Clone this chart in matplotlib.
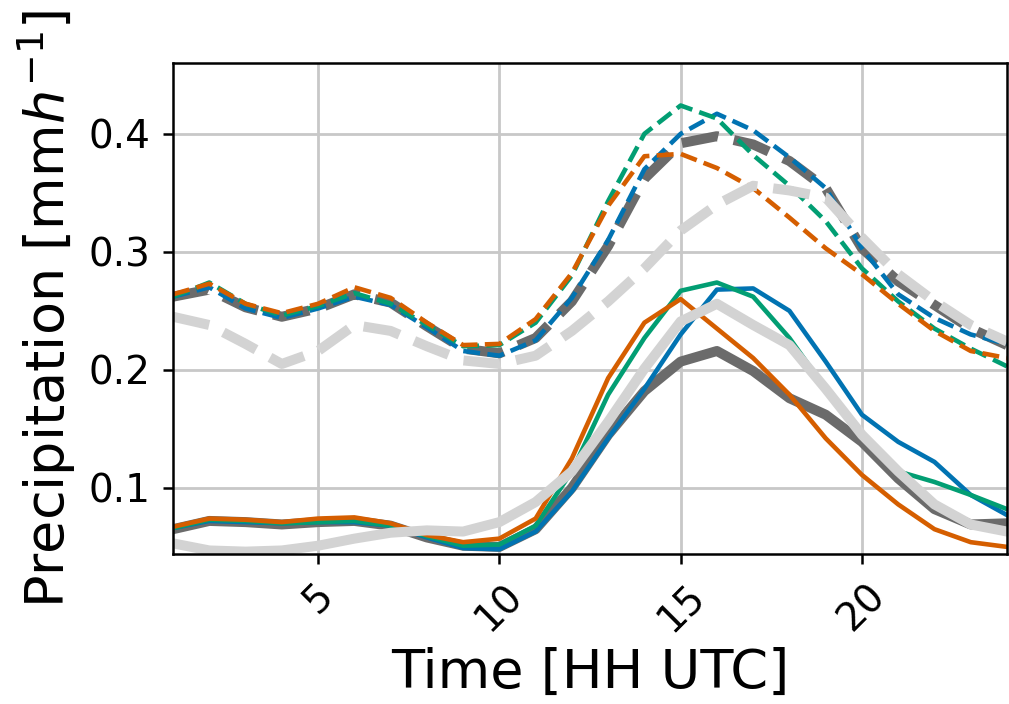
import numpy as np
import matplotlib
matplotlib.use("Agg")
from matplotlib import pyplot as plt

hours = np.arange(1, 25)

# hourly mean precipitation [mm/h], dashed set
dash_blue = [0.262, 0.270, 0.252, 0.244, 0.252, 0.262, 0.255, 0.236, 0.216, 0.212, 0.225, 0.261,
             0.310, 0.370, 0.400, 0.417, 0.403, 0.380, 0.354, 0.303, 0.264, 0.244, 0.230, 0.222]
dash_orange = [0.264, 0.273, 0.256, 0.248, 0.256, 0.270, 0.261, 0.240, 0.221, 0.222, 0.243, 0.282,
               0.339, 0.381, 0.383, 0.371, 0.354, 0.329, 0.303, 0.281, 0.256, 0.233, 0.216, 0.210]
dash_green = [0.262, 0.274, 0.256, 0.246, 0.254, 0.265, 0.256, 0.238, 0.220, 0.221, 0.240, 0.280,
              0.343, 0.400, 0.424, 0.413, 0.382, 0.356, 0.326, 0.286, 0.258, 0.235, 0.218, 0.203]
dash_dark = [0.262, 0.268, 0.253, 0.245, 0.252, 0.264, 0.257, 0.237, 0.218, 0.214, 0.227, 0.258,
             0.305, 0.362, 0.392, 0.398, 0.391, 0.377, 0.354, 0.303, 0.275, 0.255, 0.235, 0.221]
dash_light = [0.245, 0.238, 0.222, 0.205, 0.216, 0.238, 0.233, 0.220, 0.208, 0.205, 0.212, 0.233,
              0.258, 0.286, 0.318, 0.340, 0.356, 0.352, 0.346, 0.312, 0.281, 0.258, 0.238, 0.224]

# solid set
solid_blue = [0.066, 0.072, 0.071, 0.070, 0.071, 0.071, 0.068, 0.058, 0.049, 0.048, 0.063, 0.097,
              0.142, 0.184, 0.230, 0.268, 0.269, 0.250, 0.207, 0.162, 0.139, 0.122, 0.094, 0.077]
solid_orange = [0.067, 0.074, 0.073, 0.071, 0.074, 0.075, 0.070, 0.060, 0.054, 0.057, 0.074, 0.125,
                0.193, 0.240, 0.260, 0.235, 0.210, 0.179, 0.142, 0.111, 0.086, 0.065, 0.054, 0.050]
solid_green = [0.066, 0.073, 0.072, 0.070, 0.071, 0.072, 0.068, 0.059, 0.051, 0.052, 0.068, 0.114,
               0.179, 0.227, 0.267, 0.274, 0.262, 0.227, 0.184, 0.143, 0.114, 0.105, 0.094, 0.082]
solid_dark = [0.065, 0.072, 0.071, 0.069, 0.071, 0.072, 0.068, 0.058, 0.051, 0.050, 0.065, 0.100,
              0.145, 0.182, 0.207, 0.216, 0.199, 0.176, 0.162, 0.139, 0.108, 0.082, 0.069, 0.070]
solid_light = [0.053, 0.047, 0.046, 0.047, 0.051, 0.057, 0.062, 0.064, 0.063, 0.071, 0.088, 0.114,
               0.156, 0.201, 0.241, 0.256, 0.238, 0.221, 0.184, 0.145, 0.114, 0.086, 0.069, 0.063]

BLUE = "#0173b2"
ORANGE = "#d55e00"
GREEN = "#029e73"
DARK = "#6b6b6b"
LIGHT = "#d3d3d3"

fig = plt.figure(figsize=(10.09, 7.04), dpi=100)
ax = fig.add_axes([0.1715, 0.2131, 0.8265, 0.6974])

thin = 3.3
thick = 7.2

for ls, dk, b, o, g, lt in [("--", dash_dark, dash_blue, dash_orange, dash_green, dash_light),
                             ("-", solid_dark, solid_blue, solid_orange, solid_green, solid_light)]:
    ax.plot(hours, dk, ls, color=DARK, lw=thick)
    ax.plot(hours, b, ls, color=BLUE, lw=thin)
    ax.plot(hours, g, ls, color=GREEN, lw=thin)
    ax.plot(hours, o, ls, color=ORANGE, lw=thin)
    ax.plot(hours, lt, ls, color=LIGHT, lw=thick)

ax.set_xlim(1, 24)
ax.set_ylim(0.044, 0.46)
ax.set_xticks([5, 10, 15, 20])
ax.set_yticks([0.1, 0.2, 0.3, 0.4])
ax.grid(True, color="#c8c8c8", lw=2)
ax.set_axisbelow(True)

ax.tick_params(labelsize=28, length=7, width=1.8, pad=9)
plt.setp(ax.get_xticklabels(), rotation=45)
for sp in ax.spines.values():
    sp.set_linewidth(1.8)

ax.set_xlabel("Time [HH UTC]", fontsize=39, labelpad=6)
ax.set_ylabel(r"Precipitation [mm$h^{-1}$]", fontsize=39, labelpad=8)

fig.savefig("out.png", dpi=100)
